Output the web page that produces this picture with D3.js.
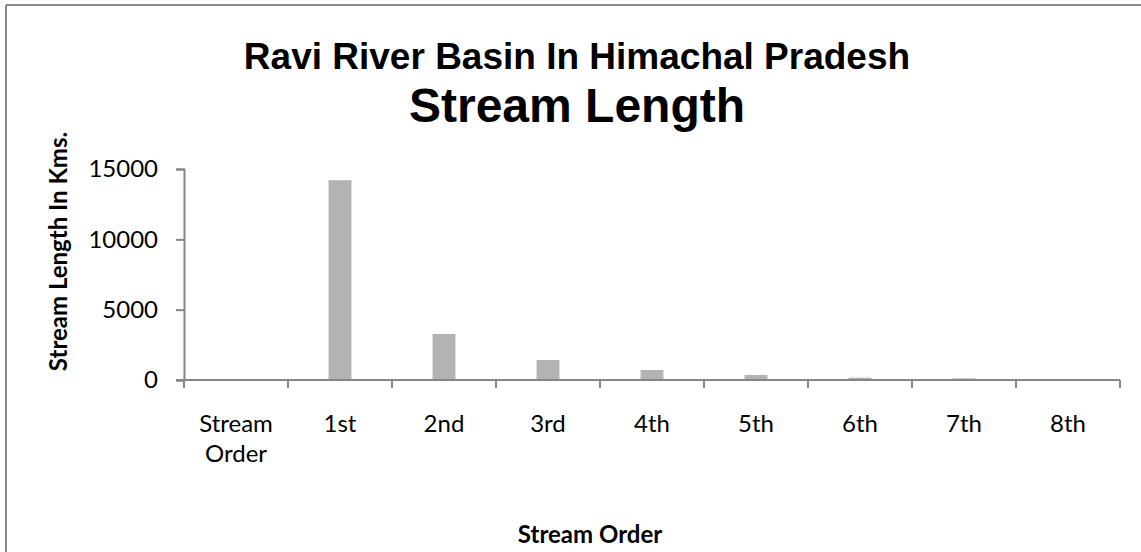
<!DOCTYPE html>
<html>
<head>
<meta charset="utf-8">
<script src="https://cdn.jsdelivr.net/npm/d3@7"></script>
<style>
  body { margin: 0; background: #fff; }
  svg { display: block; }
</style>
</head>
<body>
<div id="chart"></div>
<script>
// du lieu doc tu hinh
const categories = ["Stream Order", "1st", "2nd", "3rd", "4th", "5th", "6th", "7th", "8th"];
const streamLength = [0, 14200, 3270, 1420, 710, 360, 165, 120, 50];
const yTicks = [0, 5000, 10000, 15000];

const width = 1141, height = 552;
const margin = { top: 169, right: 21, bottom: 172, left: 184 };
const axisColor = "#868686";
const barColor = "#b3b3b3";
const labelFont = "Lato, 'Open Sans', sans-serif";

const data = categories.map((c, i) => ({ name: c, value: streamLength[i] }));

const svg = d3.select("#chart")
    .append("svg")
    .attr("width", width)
    .attr("height", height);

// khung ngoai
svg.append("line")
    .attr("x1", 6).attr("x2", width).attr("y1", 5).attr("y2", 5)
    .attr("stroke", "#8a8a8a").attr("stroke-width", 2);
svg.append("line")
    .attr("x1", 6).attr("x2", 6).attr("y1", 5).attr("y2", height)
    .attr("stroke", "#8a8a8a").attr("stroke-width", 2);

const x = d3.scaleBand()
    .domain(categories)
    .range([margin.left, width - margin.right])
    .padding(0);

const y = d3.scaleLinear()
    .domain([0, 15000])
    .range([height - margin.bottom, margin.top]);

// thanh
const barW = x.bandwidth() * 0.22;
svg.selectAll(".bar")
    .data(data.filter(d => d.value > 0))
    .enter()
    .append("rect")
    .attr("class", "bar")
    .attr("x", d => x(d.name) + (x.bandwidth() - barW) / 2)
    .attr("y", d => y(d.value))
    .attr("width", barW)
    .attr("height", d => y(0) - y(d.value))
    .attr("fill", barColor);

// truc Y
const yAxis = svg.append("g")
    .attr("transform", `translate(${margin.left},0)`)
    .call(d3.axisLeft(y).tickValues(yTicks).tickSize(8).tickPadding(18).tickFormat(d3.format("d")));
yAxis.select(".domain").attr("stroke", axisColor).attr("stroke-width", 2);
yAxis.selectAll(".tick line").attr("stroke", axisColor).attr("stroke-width", 2);
yAxis.selectAll(".tick text")
    .attr("font-family", labelFont)
    .attr("font-size", "24px")
    .attr("fill", "#000");

// truc X: vach chia o ranh gioi cac nhom
const xAxis = svg.append("g")
    .attr("transform", `translate(0,${y(0)})`);
xAxis.append("line")
    .attr("x1", x.range()[0] - 8).attr("x2", x.range()[1])
    .attr("stroke", axisColor).attr("stroke-width", 2);
const bounds = categories.map(c => x(c)).concat([x.range()[1]]);
xAxis.selectAll(".xtick")
    .data(bounds)
    .enter()
    .append("line")
    .attr("x1", d => d).attr("x2", d => d)
    .attr("y1", 0).attr("y2", 8)
    .attr("stroke", axisColor).attr("stroke-width", 2);

const xLabels = xAxis.selectAll(".xlabel")
    .data(categories)
    .enter()
    .append("text")
    .attr("x", d => x(d) + x.bandwidth() / 2)
    .attr("y", 52)
    .attr("text-anchor", "middle")
    .attr("font-family", labelFont)
    .attr("font-size", "24px")
    .attr("fill", "#000");
xLabels.each(function (d) {
    const words = d.split(" ");
    const t = d3.select(this);
    words.forEach((w, i) => {
        t.append("tspan")
            .attr("x", x(d) + x.bandwidth() / 2)
            .attr("dy", i === 0 ? 0 : 30)
            .text(w);
    });
});

// tieu de
svg.append("text")
    .attr("x", 577)
    .attr("y", 69)
    .attr("text-anchor", "middle")
    .attr("font-family", "'Liberation Sans', Arial, sans-serif")
    .attr("font-weight", "bold")
    .attr("font-size", "37px")
    .text("Ravi River Basin In Himachal Pradesh");

svg.append("text")
    .attr("x", 577)
    .attr("y", 122)
    .attr("text-anchor", "middle")
    .attr("font-family", "'Liberation Sans', Arial, sans-serif")
    .attr("font-weight", "bold")
    .attr("font-size", "48px")
    .text("Stream Length");

// nhan truc
svg.append("text")
    .attr("transform", `translate(67,${(y(0) + y(15000)) / 2 - 23}) rotate(-90)`)
    .attr("text-anchor", "middle")
    .attr("font-family", labelFont)
    .attr("font-weight", "bold")
    .attr("font-size", "24px")
    .text("Stream Length In Kms.");

svg.append("text")
    .attr("x", 590)
    .attr("y", 543)
    .attr("text-anchor", "middle")
    .attr("font-family", labelFont)
    .attr("font-weight", "bold")
    .attr("font-size", "24px")
    .text("Stream Order");
</script>
</body>
</html>
